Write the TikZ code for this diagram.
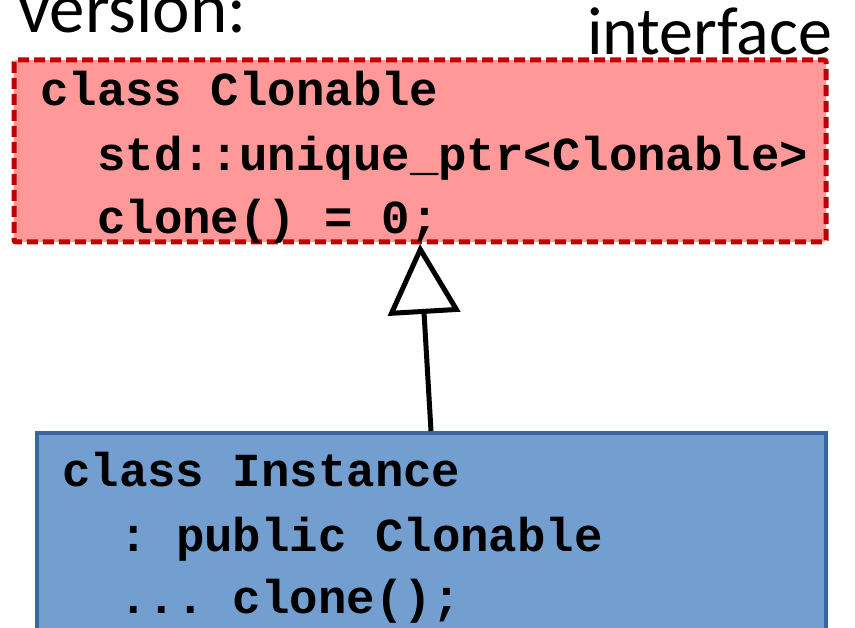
\documentclass[tikz,border=0pt]{standalone}
\usepackage{fontspec}
\setmainfont{Carlito}
\setmonofont{Liberation Mono}
\usetikzlibrary{arrows.meta}

\definecolor{ifacefill}{HTML}{FF9898}
\definecolor{ifaceline}{HTML}{C00000}
\definecolor{implfill}{HTML}{729FCF}
\definecolor{implline}{HTML}{3A64A4}

\tikzset{
  label text/.style={inner sep=0pt, anchor=base west},
  code/.style={inner sep=0pt, anchor=base west,
    font=\fontsize{47.4}{63}\selectfont\ttfamily\bfseries},
  ifacebox/.style={draw=ifaceline, fill=ifacefill, line width=5pt,
    dash pattern=on 11pt off 5pt, rounded corners=2pt},
  implbox/.style={draw=implline, fill=implfill, line width=4pt},
  inherits/.style={line width=5pt,
    -{Triangle[open, length=70pt, width=72pt, line width=5pt]}}
}

\begin{document}
\begin{tikzpicture}[x=1pt, y=-1pt]
  \useasboundingbox (0,0) rectangle (855,628);
  \begin{scope}
    \clip (0,0) rectangle (855,628);

    % headings
    \node[label text, font=\fontsize{71}{71}\selectfont] (ver) at (18,33) {version:};
    \node[label text, font=\fontsize{68}{68}\selectfont] (ifc) at (587,55) {interface};

    % abstract interface
    \draw[ifacebox] (14,60) rectangle (826,242);
    \coordinate (ifacebot) at (420,244);
    \node[code] (c1) at (40,106) {class Clonable};
    \node[code] (c2) at (97,171) {std::unique\_ptr<Clonable>};
    \node[code] (c3) at (97,234) {clone() = 0;};

    % concrete implementation
    \draw[implbox] (37,433) rectangle (826,700);
    \coordinate (impltop) at (431,431);
    \node[code] (i1) at (62,486) {class Instance};
    \node[code] (i2) at (119,551) {: public Clonable};
    \node[code] (i3) at (119,613) {... clone();};

    % inheritance arrow
    \draw[inherits] (impltop) -- (ifacebot);
  \end{scope}
\end{tikzpicture}
\end{document}
